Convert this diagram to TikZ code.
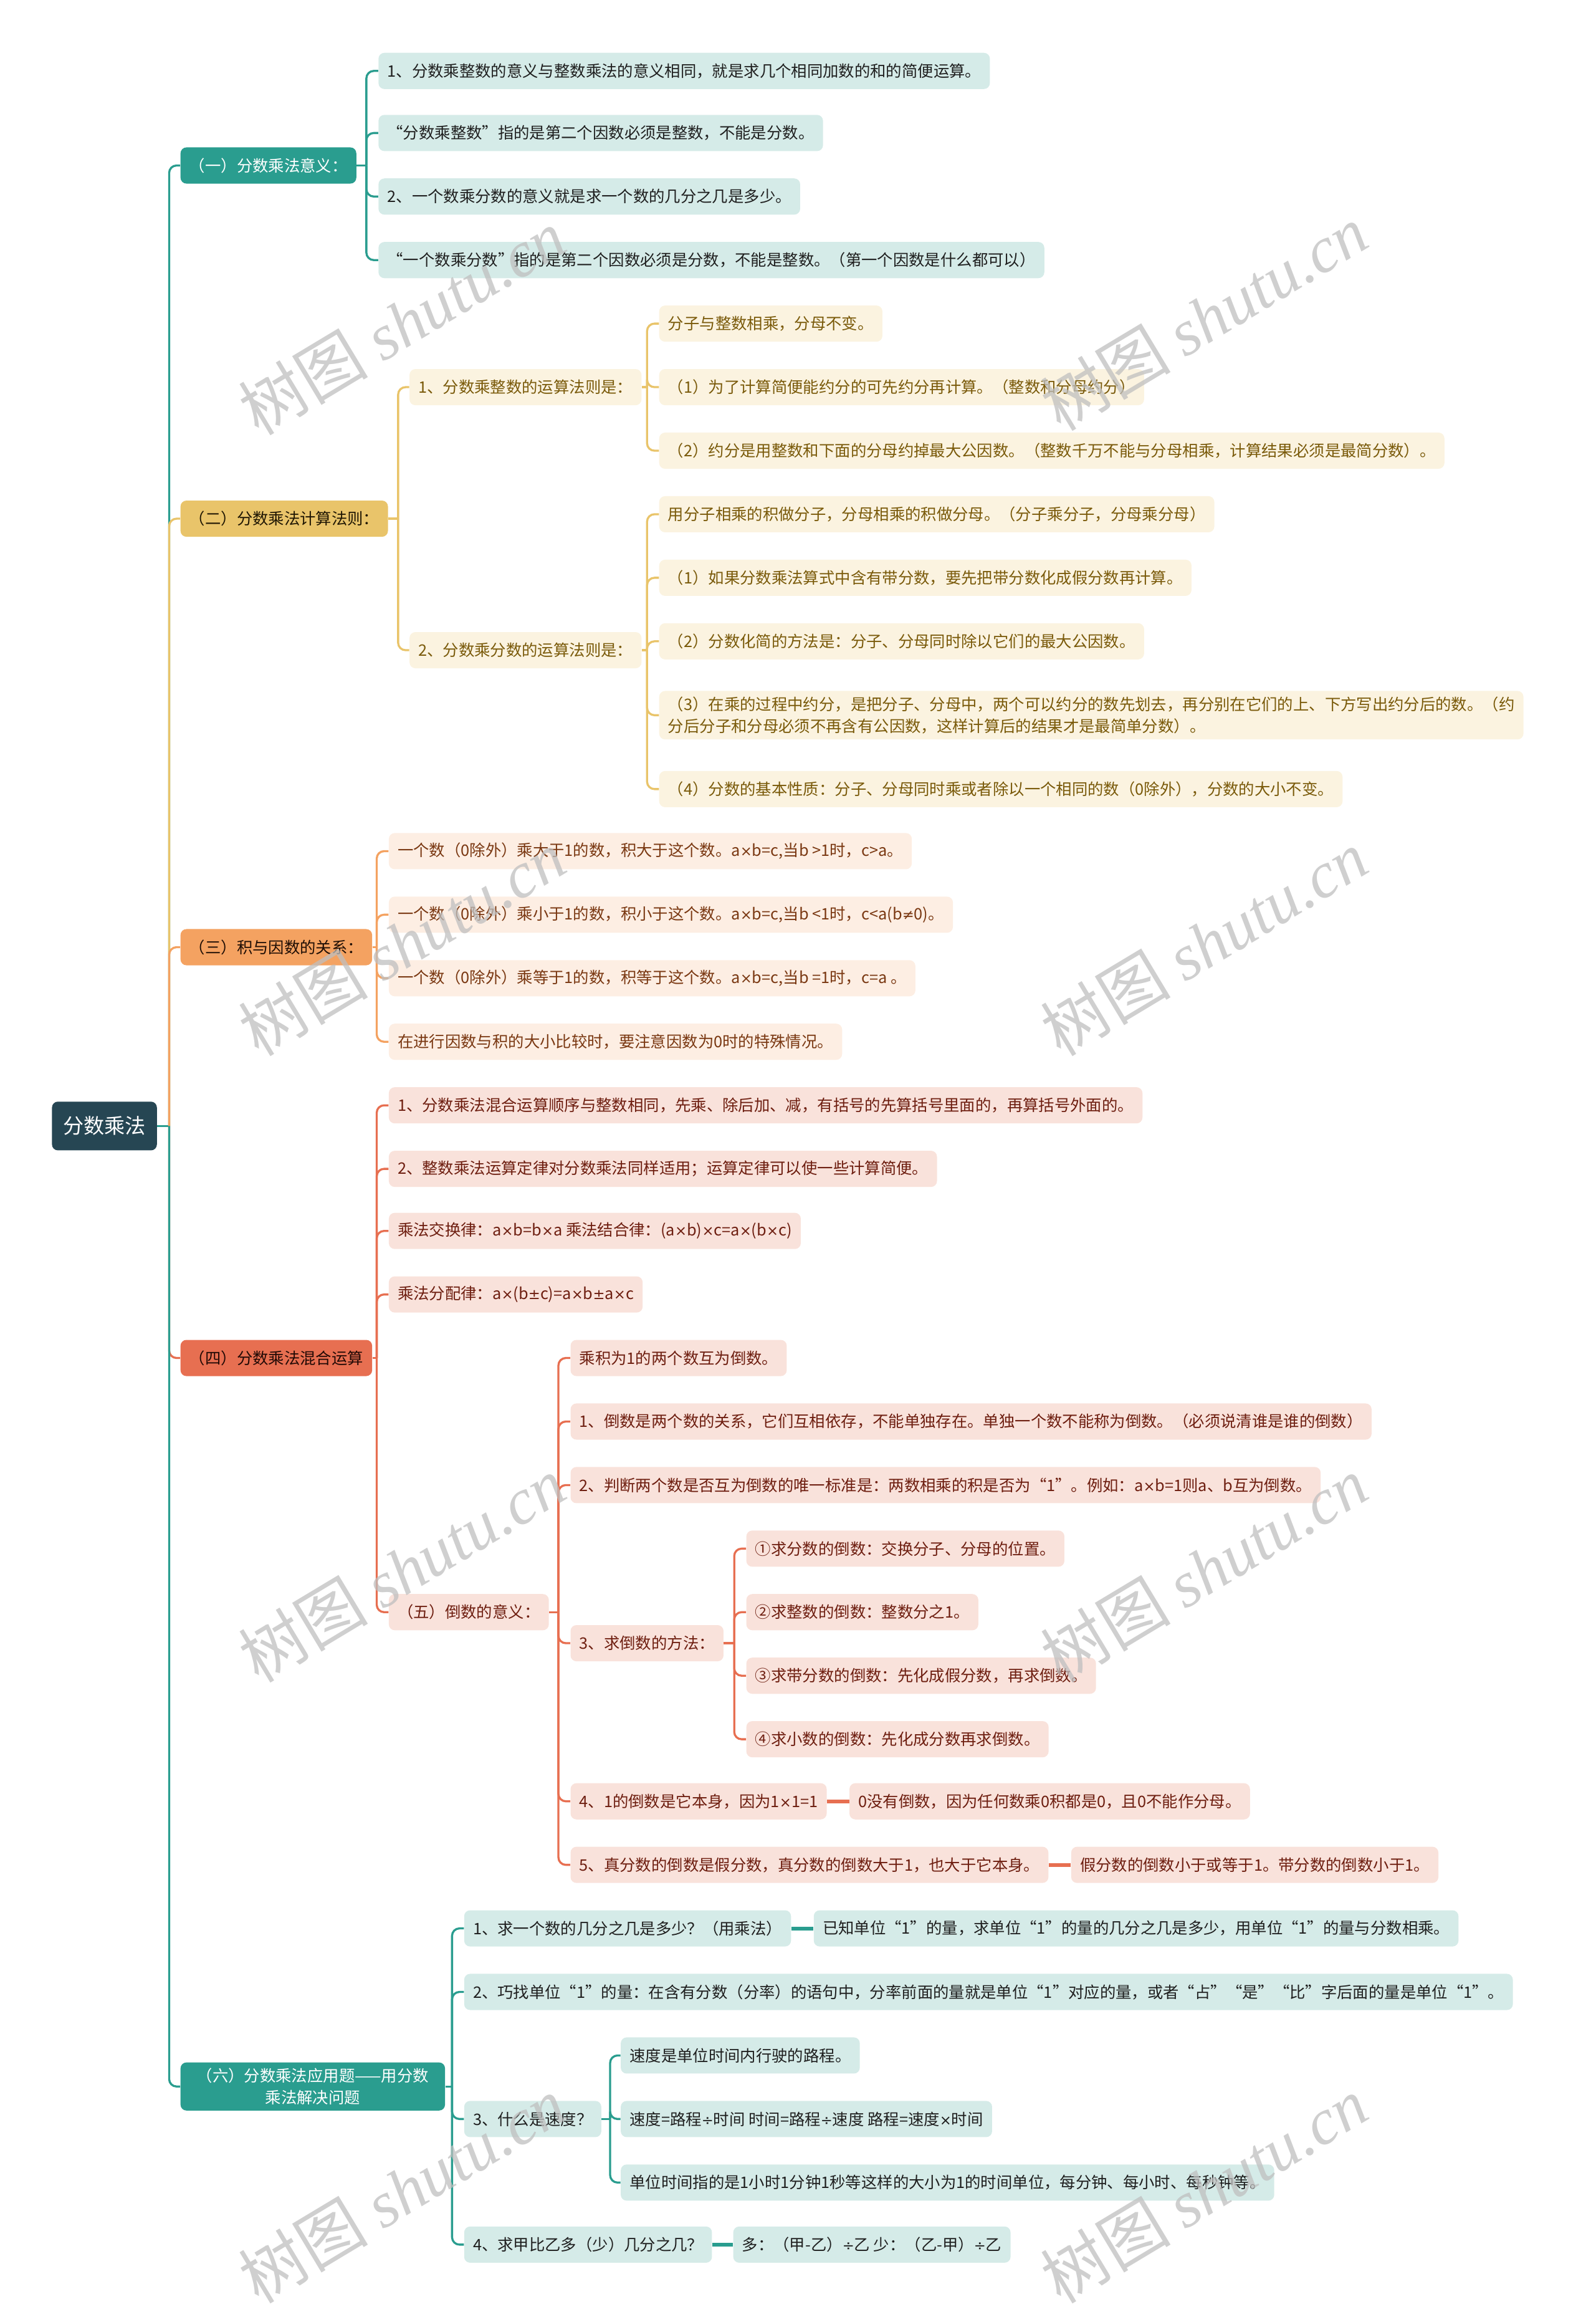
\documentclass[tikz,border=0pt]{standalone}
\usepackage{fontspec}
\setmainfont{Noto Sans CJK SC}
\newfontfamily\wmserif{Liberation Serif}
\newfontfamily\latinf{DejaVu Sans}
\newcommand{\sym}[1]{{\latinf\fontsize{9.6}{14.5}\selectfont #1}}
\usetikzlibrary{positioning}

\definecolor{rootbg}{HTML}{264653}
\definecolor{teal1}{HTML}{2A9D8F}
\definecolor{teal2}{HTML}{D5EBE8}
\definecolor{gold1}{HTML}{E9C46A}
\definecolor{gold2}{HTML}{FBF3E0}
\definecolor{goldtx}{HTML}{7A5A0A}
\definecolor{sand1}{HTML}{F4A261}
\definecolor{sand2}{HTML}{FDEEE3}
\definecolor{sandtx}{HTML}{7A3812}
\definecolor{coral1}{HTML}{E76F51}
\definecolor{coral2}{HTML}{F9E2DB}
\definecolor{coraltx}{HTML}{6E1E10}

\begin{document}
\begin{tikzpicture}[
  x=1pt, y=-1pt,
  font=\fontsize{10.7}{14.5}\selectfont,
  bx/.style={rounded corners=4pt, anchor=west, inner xsep=6pt, inner ysep=4pt,
             minimum height=24.5pt, align=left},
  rootbox/.style={bx, fill=rootbg, text=white, font=\fontsize{14}{16}\selectfont,
                  minimum height=33pt, inner xsep=7.5pt},
  tealbr/.style={bx, fill=teal1, text=white},
  tealleaf/.style={bx, fill=teal2, text=black!88},
  goldbr/.style={bx, fill=gold1, text=black!75!goldtx},
  goldleaf/.style={bx, fill=gold2, text=goldtx},
  sandbr/.style={bx, fill=sand1, text=black!75!sandtx},
  sandleaf/.style={bx, fill=sand2, text=sandtx},
  coralbr/.style={bx, fill=coral1, text=black!70!coraltx},
  coralleaf/.style={bx, fill=coral2, text=coraltx},
  ln/.style={line width=1.4pt, rounded corners=5pt},
  tealln/.style={ln, draw=teal1},
  goldln/.style={ln, draw=gold1},
  sandln/.style={ln, draw=sand1},
  coralln/.style={ln, draw=coral1},
  wm/.style={text=black!25, opacity=0.75, rotate=31, font=\fontsize{44}{48}\selectfont}
]
\useasboundingbox (0,0) rectangle (1080,1568);

\node[rootbox] (root) at (35,762) {分数乘法};

% ---------------- (一) ----------------
\node[tealbr] (ma) at (122,112) {（一）分数乘法意义：};
\node[tealleaf] (a1) at (256,48) {1、分数乘整数的意义与整数乘法的意义相同，就是求几个相同加数的和的简便运算。};
\node[tealleaf] (a2) at (256,90) {“分数乘整数”指的是第二个因数必须是整数，不能是分数。};
\node[tealleaf] (a3) at (256,133) {2、一个数乘分数的意义就是求一个数的几分之几是多少。};
\node[tealleaf] (a4) at (256,176) {“一个数乘分数”指的是第二个因数必须是分数，不能是整数。（第一个因数是什么都可以）};

% ---------------- (二) ----------------
\node[goldbr] (mb) at (122,351) {（二）分数乘法计算法则：};
\node[goldleaf] (b1) at (277,262) {1、分数乘整数的运算法则是：};
\node[goldleaf] (b11) at (446,219) {分子与整数相乘，分母不变。};
\node[goldleaf] (b12) at (446,262) {（1）为了计算简便能约分的可先约分再计算。（整数和分母约分）};
\node[goldleaf] (b13) at (446,305) {（2）约分是用整数和下面的分母约掉最大公因数。（整数千万不能与分母相乘，计算结果必须是最简分数）。};
\node[goldleaf] (b2) at (277,440) {2、分数乘分数的运算法则是：};
\node[goldleaf] (b21) at (446,348) {用分子相乘的积做分子，分母相乘的积做分母。（分子乘分子，分母乘分母）};
\node[goldleaf] (b22) at (446,391) {（1）如果分数乘法算式中含有带分数，要先把带分数化成假分数再计算。};
\node[goldleaf] (b23) at (446,434) {（2）分数化简的方法是：分子、分母同时除以它们的最大公因数。};
\node[goldleaf] (b24) at (446,484) {（3）在乘的过程中约分，是把分子、分母中，两个可以约分的数先划去，再分别在它们的上、下方写出约分后的数。（约\\分后分子和分母必须不再含有公因数，这样计算后的结果才是最简单分数）。};
\node[goldleaf] (b25) at (446,534) {（4）分数的基本性质：分子、分母同时乘或者除以一个相同的数（0除外），分数的大小不变。};

% ---------------- (三) ----------------
\node[sandbr] (mc) at (122,641) {（三）积与因数的关系：};
\node[sandleaf] (c1) at (263,576) {一个数（0除外）乘大于1的数，积大于这个数。a\sym{×}b=c,当b >1时，c>a。};
\node[sandleaf] (c2) at (263,619) {一个数（0除外）乘小于1的数，积小于这个数。a\sym{×}b=c,当b <1时，c<a(b\sym{≠}0)。};
\node[sandleaf] (c3) at (263,662) {一个数（0除外）乘等于1的数，积等于这个数。a\sym{×}b=c,当b =1时，c=a 。};
\node[sandleaf] (c4) at (263,705) {在进行因数与积的大小比较时，要注意因数为0时的特殊情况。};

% ---------------- (四) ----------------
\node[coralbr] (md) at (122,919) {（四）分数乘法混合运算};
\node[coralleaf] (d1) at (263,748) {1、分数乘法混合运算顺序与整数相同，先乘、除后加、减，有括号的先算括号里面的，再算括号外面的。};
\node[coralleaf] (d2) at (263,791) {2、整数乘法运算定律对分数乘法同样适用；运算定律可以使一些计算简便。};
\node[coralleaf] (d3) at (263,833) {乘法交换律：a\sym{×}b=b\sym{×}a 乘法结合律：(a\sym{×}b)\sym{×}c=a\sym{×}(b\sym{×}c)};
\node[coralleaf] (d4) at (263,876) {乘法分配律：a\sym{×}(b\sym{±}c)=a\sym{×}b\sym{±}a\sym{×}c};
\node[coralleaf] (d5) at (263,1091) {（五）倒数的意义：};
\node[coralleaf] (e1) at (386,919) {乘积为1的两个数互为倒数。};
\node[coralleaf] (e2) at (386,962) {1、倒数是两个数的关系，它们互相依存，不能单独存在。单独一个数不能称为倒数。（必须说清谁是谁的倒数）};
\node[coralleaf] (e3) at (386,1005) {2、判断两个数是否互为倒数的唯一标准是：两数相乘的积是否为“1”。例如：a\sym{×}b=1则a、b互为倒数。};
\node[coralleaf] (e4) at (386,1112) {3、求倒数的方法：};
\node[coralleaf] (e41) at (505,1048) {①求分数的倒数：交换分子、分母的位置。};
\node[coralleaf] (e42) at (505,1091) {②求整数的倒数：整数分之1。};
\node[coralleaf] (e43) at (505,1134) {③求带分数的倒数：先化成假分数，再求倒数。};
\node[coralleaf] (e44) at (505,1177) {④求小数的倒数：先化成分数再求倒数。};
\node[coralleaf] (e5) at (386,1219) {4、1的倒数是它本身，因为1\sym{×}1=1};
\node[coralleaf, right=15pt of e5] (e51) {0没有倒数，因为任何数乘0积都是0，且0不能作分母。};
\node[coralleaf] (e6) at (386,1262) {5、真分数的倒数是假分数，真分数的倒数大于1，也大于它本身。};
\node[coralleaf, right=15pt of e6] (e61) {假分数的倒数小于或等于1。带分数的倒数小于1。};

% ---------------- (六) ----------------
\node[tealbr, align=center, inner xsep=11pt] (mf) at (122,1412) {（六）分数乘法应用题——用分数\\乘法解决问题};
\node[tealleaf] (f1) at (314,1305) {1、求一个数的几分之几是多少？（用乘法）};
\node[tealleaf, right=15pt of f1] (f11) {已知单位“1”的量，求单位“1”的量的几分之几是多少，用单位“1”的量与分数相乘。};
\node[tealleaf] (f2) at (314,1348) {2、巧找单位“1”的量：在含有分数（分率）的语句中，分率前面的量就是单位“1”对应的量，或者“占”“是”“比”字后面的量是单位“1”。};
\node[tealleaf] (f3) at (314,1434) {3、什么是速度？};
\node[tealleaf] (f31) at (420,1391) {速度是单位时间内行驶的路程。};
\node[tealleaf] (f32) at (420,1434) {速度=路程\sym{÷}时间 时间=路程\sym{÷}速度 路程=速度\sym{×}时间};
\node[tealleaf] (f33) at (420,1477) {单位时间指的是1小时1分钟1秒等这样的大小为1的时间单位，每分钟、每小时、每秒钟等。};
\node[tealleaf] (f4) at (314,1519) {4、求甲比乙多（少）几分之几？};
\node[tealleaf, right=14pt of f4] (f41) {多：（甲-乙）\sym{÷}乙 少：（乙-甲）\sym{÷}乙};

% ---------------- connectors ----------------
\coordinate (jr) at ([xshift=-7.5pt]ma.west |- root.east);
\draw[tealln] (root.east) -- (jr);
\draw[tealln] (jr) |- (ma.west);
\draw[goldln] (jr) |- (mb.west);
\draw[sandln] (jr) |- (mc.west);
\draw[coralln] (jr) |- (md.west);
\draw[tealln] (jr) |- (mf.west);

\coordinate (ja) at ([xshift=-8pt]a1.west |- ma.east);
\draw[tealln] (ma.east) -- (ja);
\foreach \c in {a1,a2,a3,a4} \draw[tealln] (ja) |- (\c.west);

\coordinate (jb) at ([xshift=-7.5pt]b1.west |- mb.east);
\draw[goldln] (mb.east) -- (jb);
\foreach \c in {b1,b2} \draw[goldln] (jb) |- (\c.west);
\coordinate (jb1) at ([xshift=-8pt]b11.west |- b1.east);
\draw[goldln] (b1.east) -- (jb1);
\foreach \c in {b11,b12,b13} \draw[goldln] (jb1) |- (\c.west);
\coordinate (jb2) at ([xshift=-8pt]b21.west |- b2.east);
\draw[goldln] (b2.east) -- (jb2);
\foreach \c in {b21,b22,b23,b24,b25} \draw[goldln] (jb2) |- (\c.west);

\coordinate (jc) at ([xshift=-8pt]c1.west |- mc.east);
\draw[sandln] (mc.east) -- (jc);
\foreach \c in {c1,c2,c3,c4} \draw[sandln] (jc) |- (\c.west);

\coordinate (jd) at ([xshift=-8pt]d1.west |- md.east);
\draw[coralln] (md.east) -- (jd);
\foreach \c in {d1,d2,d3,d4,d5} \draw[coralln] (jd) |- (\c.west);
\coordinate (je) at ([xshift=-8pt]e1.west |- d5.east);
\draw[coralln] (d5.east) -- (je);
\foreach \c in {e1,e2,e3,e4,e5,e6} \draw[coralln] (je) |- (\c.west);
\coordinate (je4) at ([xshift=-8pt]e41.west |- e4.east);
\draw[coralln] (e4.east) -- (je4);
\foreach \c in {e41,e42,e43,e44} \draw[coralln] (je4) |- (\c.west);
\draw[coralln, line width=2.6pt] (e5) -- (e51);
\draw[coralln, line width=2.6pt] (e6) -- (e61);

\coordinate (jf) at ([xshift=-8pt]f1.west |- mf.east);
\draw[tealln] (mf.east) -- (jf);
\foreach \c in {f1,f2,f3,f4} \draw[tealln] (jf) |- (\c.west);
\coordinate (jf3) at ([xshift=-7pt]f31.west |- f3.east);
\draw[tealln] (f3.east) -- (jf3);
\foreach \c in {f31,f32,f33} \draw[tealln] (jf3) |- (\c.west);
\draw[tealln, line width=2.6pt] (f1) -- (f11);
\draw[tealln, line width=2.6pt] (f4) -- (f41);

% watermark
\foreach \wx/\wy [count=\k] in {272/218,815/215,272/638,815/638,272/1062,815/1062,272/1482,815/1482}
  \node[wm] (wm\k) at (\wx,\wy) {树图 {\wmserif\itshape shutu.cn}};

\end{tikzpicture}
\end{document}
